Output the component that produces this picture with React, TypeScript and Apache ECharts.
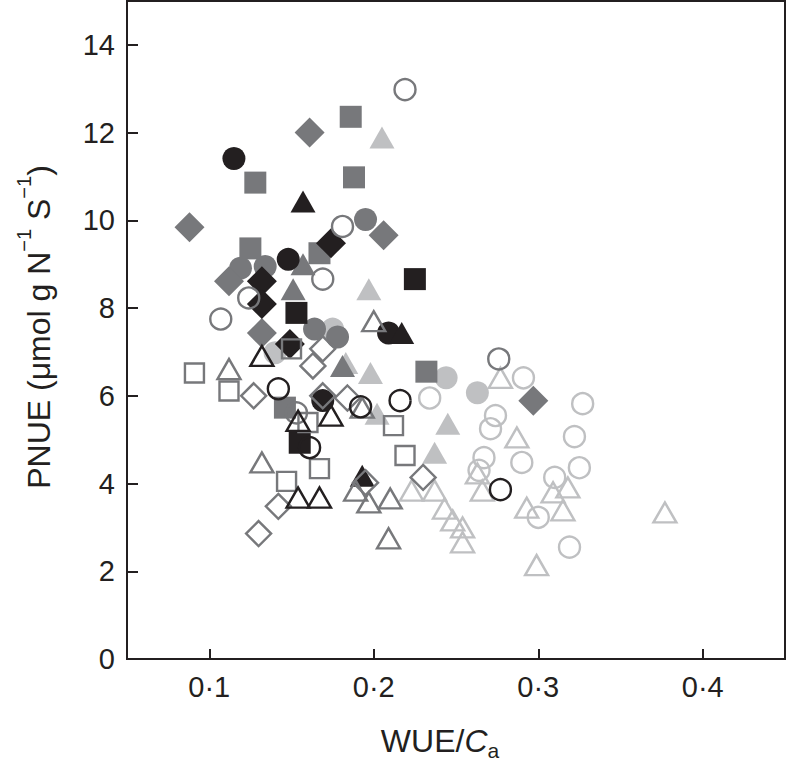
import React, { useEffect, useRef } from "react";
import * as echarts from "echarts";

// ---- data (WUE/Ca, PNUE) ----
const blackCircle = [[0.115, 11.41], [0.148, 9.11], [0.209, 7.43], [0.169, 5.89]];
const grayCircle = [[0.119, 8.91], [0.134, 8.95], [0.195, 10.02], [0.164, 7.52], [0.178, 7.34]];
const lightCircle = [[0.175, 7.52], [0.140, 6.98], [0.244, 6.41], [0.263, 6.07]];
const blackSquare = [[0.225, 8.66], [0.153, 7.89], [0.155, 4.93]];
const graySquare = [[0.186, 12.36], [0.128, 10.86], [0.188, 10.98], [0.125, 9.36], [0.167, 9.25], [0.232, 6.55], [0.146, 5.73]];
const blackTriangle = [[0.157, 10.43], [0.217, 7.43], [0.193, 4.18]];
const grayTriangle = [[0.157, 9.0], [0.151, 8.43], [0.181, 6.68]];
const lightTriangle = [[0.205, 11.89], [0.197, 8.43], [0.183, 6.75], [0.198, 6.52], [0.202, 5.59], [0.245, 5.36], [0.237, 4.70]];
const blackDiamond = [[0.174, 9.48], [0.132, 8.61], [0.132, 8.09], [0.149, 7.18]];
const grayDiamond = [[0.161, 12.0], [0.088, 9.84], [0.206, 9.66], [0.112, 8.61], [0.132, 7.43], [0.297, 5.89]];
const openBlackCircle = [[0.142, 6.16], [0.161, 4.82], [0.216, 5.89], [0.192, 5.75], [0.277, 3.86]];
const openGrayCircle = [[0.219, 12.98], [0.181, 9.86], [0.169, 8.66], [0.124, 8.23], [0.107, 7.75], [0.153, 5.61], [0.276, 6.84]];
const openLightCircle = [[0.234, 5.95], [0.291, 6.41], [0.327, 5.82], [0.322, 5.07], [0.274, 5.55], [0.271, 5.25], [0.267, 4.59], [0.264, 4.30], [0.290, 4.48], [0.325, 4.36], [0.310, 4.14], [0.300, 3.23], [0.319, 2.55]];
const openGraySquare = [[0.091, 6.52], [0.112, 6.11], [0.150, 7.07], [0.160, 5.39], [0.212, 5.32], [0.219, 4.64], [0.167, 4.34], [0.147, 4.05]];
const openBlackTriangle = [[0.132, 6.91], [0.154, 5.43], [0.174, 5.55], [0.154, 3.68], [0.167, 3.68]];
const openGrayTriangle = [[0.112, 6.61], [0.200, 7.70], [0.132, 4.48], [0.193, 5.73], [0.189, 3.84], [0.197, 3.57], [0.210, 3.66], [0.209, 2.75]];
const openLightTriangle = [[0.277, 6.41], [0.287, 5.05], [0.223, 3.84], [0.237, 3.84], [0.243, 3.43], [0.248, 3.16], [0.254, 3.0], [0.254, 2.66], [0.263, 4.23], [0.266, 3.84], [0.293, 3.45], [0.299, 2.14], [0.318, 3.91], [0.309, 3.80], [0.315, 3.39], [0.377, 3.34]];
const openGrayDiamond = [[0.127, 6.0], [0.163, 6.68], [0.169, 7.07], [0.169, 6.0], [0.184, 5.95], [0.142, 3.48], [0.130, 2.86], [0.230, 4.14], [0.195, 4.02]];

const xTicks = [0.1, 0.2, 0.3, 0.4];
const yTicks = [0, 2, 4, 6, 8, 10, 12, 14];

const BLACK = "#231f20";
const GRAY = "#77787b";
const LIGHT = "#bfc0c2";
const FONT = "'Liberation Sans', Arial, Helvetica, sans-serif";

type Spec = { name: string; data: number[][]; symbol: string; color: string; filled: boolean };

const specs: Spec[] = [
  { name: "lightCircle", data: lightCircle, symbol: "circle", color: LIGHT, filled: true },
  { name: "lightTriangle", data: lightTriangle, symbol: "triangle", color: LIGHT, filled: true },
  { name: "grayCircle", data: grayCircle, symbol: "circle", color: GRAY, filled: true },
  { name: "graySquare", data: graySquare, symbol: "rect", color: GRAY, filled: true },
  { name: "grayTriangle", data: grayTriangle, symbol: "triangle", color: GRAY, filled: true },
  { name: "grayDiamond", data: grayDiamond, symbol: "diamond", color: GRAY, filled: true },
  { name: "blackCircle", data: blackCircle, symbol: "circle", color: BLACK, filled: true },
  { name: "blackSquare", data: blackSquare, symbol: "rect", color: BLACK, filled: true },
  { name: "blackTriangle", data: blackTriangle, symbol: "triangle", color: BLACK, filled: true },
  { name: "blackDiamond", data: blackDiamond, symbol: "diamond", color: BLACK, filled: true },
  { name: "openLightCircle", data: openLightCircle, symbol: "circle", color: LIGHT, filled: false },
  { name: "openLightTriangle", data: openLightTriangle, symbol: "triangle", color: LIGHT, filled: false },
  { name: "openGrayCircle", data: openGrayCircle, symbol: "circle", color: GRAY, filled: false },
  { name: "openGraySquare", data: openGraySquare, symbol: "rect", color: GRAY, filled: false },
  { name: "openGrayTriangle", data: openGrayTriangle, symbol: "triangle", color: GRAY, filled: false },
  { name: "openGrayDiamond", data: openGrayDiamond, symbol: "diamond", color: GRAY, filled: false },
  { name: "openBlackCircle", data: openBlackCircle, symbol: "circle", color: BLACK, filled: false },
  { name: "openBlackTriangle", data: openBlackTriangle, symbol: "triangle", color: BLACK, filled: false },
];

function sizeFor(symbol: string, filled: boolean): number | number[] {
  if (symbol === "circle") return filled ? 23 : 21;
  if (symbol === "rect") return filled ? 22 : 19;
  if (symbol === "triangle") return filled ? [25, 22] : [23, 20];
  return filled ? 30 : 25;
}

export default function App() {
  const ref = useRef<HTMLDivElement>(null);
  useEffect(() => {
    if (!ref.current) return;
    const chart = echarts.init(ref.current, null, { renderer: "svg" });
    const series = specs.map((s) => ({
      name: s.name,
      type: "scatter",
      data: s.data,
      symbol: s.symbol,
      symbolSize: sizeFor(s.symbol, s.filled),
      itemStyle: s.filled
        ? { color: s.color, borderWidth: 0, opacity: 1 }
        : { color: "rgba(255,255,255,0)", borderColor: s.color, borderWidth: 2.4, opacity: 1 },
      emphasis: { disabled: true },
    }));
    chart.setOption({
      animation: false,
      backgroundColor: "#ffffff",
      grid: {
        left: 127,
        right: 2,
        top: 1,
        bottom: 111,
        show: true,
        borderColor: BLACK,
        borderWidth: 2,
        backgroundColor: "transparent",
      },
      xAxis: {
        type: "value",
        min: 0.05,
        max: 0.45,
        splitLine: { show: false },
        axisLine: { show: true, onZero: false, lineStyle: { color: BLACK, width: 2 } },
        axisTick: { show: true, inside: true, length: 10, customValues: xTicks, lineStyle: { color: BLACK, width: 2 } },
        axisLabel: {
          customValues: xTicks,
          margin: 13,
          color: BLACK,
          fontSize: 29,
          fontFamily: FONT,
          formatter: (v: number) => v.toFixed(1).replace(".", "\u00b7"),
        },
      },
      yAxis: {
        type: "value",
        min: 0,
        max: 15,
        splitLine: { show: false },
        axisLine: { show: true, onZero: false, lineStyle: { color: BLACK, width: 2 } },
        axisTick: { show: true, inside: true, length: 11, customValues: yTicks, lineStyle: { color: BLACK, width: 2 } },
        axisLabel: {
          customValues: yTicks,
          margin: 12,
          color: BLACK,
          fontSize: 29,
          fontFamily: FONT,
        },
      },
      graphic: [
        {
          type: "text",
          x: 39,
          y: 327,
          rotation: Math.PI / 2,
          style: {
            text: "{m|PNUE (μmol g N}{s|−1}{m| S}{s|−1}{m|)}",
            align: "center",
            verticalAlign: "middle",
            fill: BLACK,
            font: `32px ${FONT}`,
            rich: {
              m: { fontSize: 32, fontFamily: FONT, lineHeight: 50, fill: BLACK },
              s: { fontSize: 20, fontFamily: FONT, lineHeight: 20, verticalAlign: "top", fill: BLACK },
            },
          },
        },
        {
          type: "text",
          x: 440,
          y: 741,
          style: {
            text: "{m|WUE/}{i|C}{s|a}",
            align: "center",
            verticalAlign: "middle",
            fill: BLACK,
            font: `32px ${FONT}`,
            rich: {
              m: { fontSize: 32, fontFamily: FONT, lineHeight: 40, fill: BLACK },
              i: { fontSize: 32, fontFamily: FONT, fontStyle: "italic", lineHeight: 40, fill: BLACK },
              s: { fontSize: 21, fontFamily: FONT, lineHeight: 21, verticalAlign: "bottom", fill: BLACK },
            },
          },
        },
      ],
      series,
    });
    return () => chart.dispose();
  }, []);
  return (
    <div
      ref={ref}
      style={{ position: "fixed", left: 0, top: 0, width: 787, height: 770, background: "#fff" }}
    />
  );
}
